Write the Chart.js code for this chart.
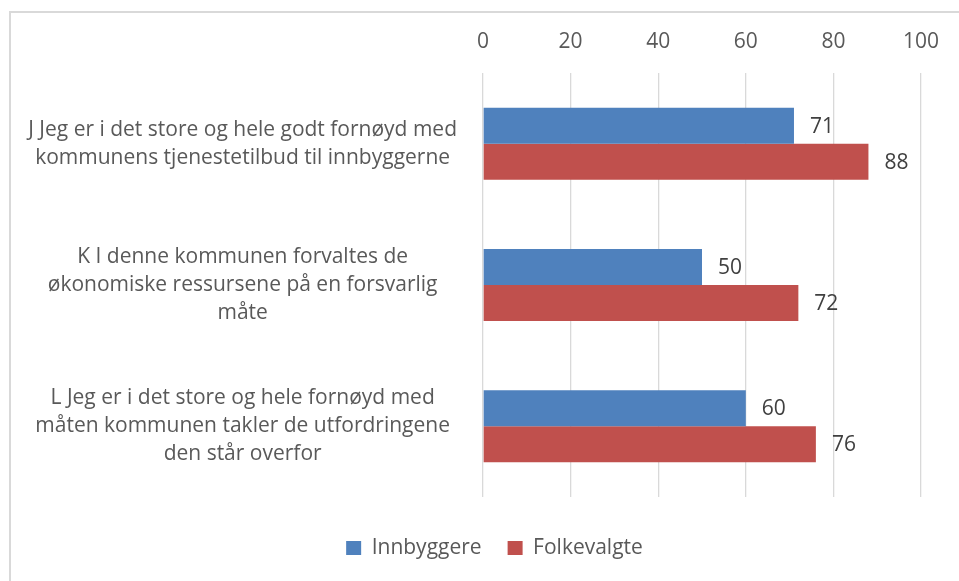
<!DOCTYPE html>
<html>
<head>
<meta charset="utf-8">
<script src="https://cdn.jsdelivr.net/npm/chart.js@4.4.1/dist/chart.umd.min.js"></script>
<style>
  html, body { margin: 0; padding: 0; background: #fff; }
  #wrap { position: relative; width: 959px; height: 581px; overflow: hidden; }
  #frame { position: absolute; left: 9px; top: 11px; width: 1000px; height: 1000px;
           border-left: 2px solid #D9D9D9; border-top: 2px solid #D9D9D9; }
  canvas { position: absolute; left: 0; top: 0; }
</style>
</head>
<body>
<div id="wrap">
  <div id="frame"></div>
  <canvas id="c" width="959" height="581"></canvas>
</div>
<script>
const categories = [
  ["J Jeg er i det store og hele godt fornøyd med", "kommunens tjenestetilbud til innbyggerne"],
  ["K I denne kommunen forvaltes de", "økonomiske ressursene på en forsvarlig", "måte"],
  ["L Jeg er i det store og hele fornøyd med", "måten kommunen takler de utfordringene", "den står overfor"]
];
const seriesNames = ["Innbyggere", "Folkevalgte"];
const innbyggere = [71, 50, 60];
const folkevalgte = [88, 72, 76];
const xTicks = [0, 20, 40, 60, 80, 100];

const FONT = "'Open Sans'";
const FS = 21;

const dataLabels = {
  id: 'dataLabels',
  afterDatasetsDraw(chart) {
    const ctx = chart.ctx;
    ctx.save();
    ctx.font = FS + 'px ' + FONT;
    ctx.fillStyle = '#404040';
    ctx.textAlign = 'left';
    ctx.textBaseline = 'middle';
    chart.data.datasets.forEach((ds, i) => {
      const meta = chart.getDatasetMeta(i);
      meta.data.forEach((el, j) => {
        ctx.fillText(String(ds.data[j]), el.x + 16, el.y + 1);
      });
    });
    ctx.restore();
  }
};

const legendShift = {
  id: 'legendShift',
  afterLayout(chart) {
    if (chart.legend) { chart.legend.left += 29; chart.legend.right += 29; }
  }
};

new Chart(document.getElementById('c'), {
  type: 'bar',
  data: {
    labels: categories,
    datasets: [
      { label: seriesNames[0], data: innbyggere, backgroundColor: '#4F81BD' },
      { label: seriesNames[1], data: folkevalgte, backgroundColor: '#C0504D' }
    ]
  },
  options: {
    indexAxis: 'y',
    responsive: false,
    animation: false,
    devicePixelRatio: 1,
    layout: { padding: { left: 10, right: 38, top: 0, bottom: 12.5 } },
    datasets: { bar: { categoryPercentage: 0.51, barPercentage: 1.0 } },
    scales: {
      x: {
        position: 'top',
        min: 0, max: 100,
        afterBuildTicks(scale) { scale.ticks = xTicks.map(v => ({ value: v })); },
        afterFit(scale) { scale.height = 73; },
        grid: { color: '#D9D9D9', lineWidth: 1.3, drawTicks: false },
        border: { display: false },
        ticks: { color: '#595959', padding: 18.5, font: { family: FONT, size: FS } }
      },
      y: {
        afterFit(scale) { scale.width = 473; },
        grid: { display: false, drawTicks: false },
        border: { display: false },
        ticks: { color: '#595959', crossAlign: 'center', padding: 26, font: { family: FONT, size: FS, lineHeight: 1.34 } }
      }
    },
    plugins: {
      tooltip: { enabled: false },
      legend: {
        position: 'bottom',
        title: { display: true, text: ' ', font: { size: 1 }, padding: { top: 13.3, bottom: 0 } },
        labels: { color: '#595959', boxWidth: 15, boxHeight: 14, padding: 26, font: { family: FONT, size: FS } }
      }
    }
  },
  plugins: [dataLabels, legendShift]
});
</script>
</body>
</html>
